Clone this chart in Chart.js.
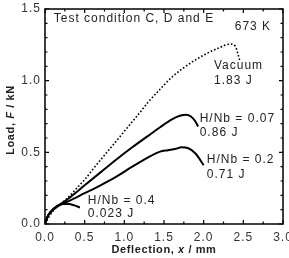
<!DOCTYPE html>
<html>
<head>
<meta charset="utf-8">
<script src="https://cdn.jsdelivr.net/npm/chart.js@4.4.0/dist/chart.umd.min.js"></script>
<style>
  html, body { margin: 0; padding: 0; background: #fff; }
  #wrap { width: 289px; height: 258px; }
</style>
</head>
<body>
<div id="wrap"><canvas id="c" width="289" height="258"></canvas></div>
<script>
// deflection (mm) / load (kN)
const vacuumX = [0, 0.05, 0.1, 0.2, 0.3, 0.4, 0.5, 0.63, 0.84, 1.05, 1.2, 1.3, 1.45, 1.61, 1.8, 2.04, 2.2, 2.33, 2.4, 2.43, 2.46];
const vacuumY = [0, 0.05, 0.09, 0.14, 0.19, 0.25, 0.31, 0.40, 0.54, 0.68, 0.78, 0.85, 0.94, 1.03, 1.11, 1.19, 1.23, 1.255, 1.24, 1.19, 1.13];

const nb007X = [0, 0.04, 0.1, 0.2, 0.3, 0.5, 0.7, 0.9, 1.1, 1.3, 1.45, 1.6, 1.7, 1.78, 1.84, 1.89, 1.93];
const nb007Y = [0, 0.06, 0.1, 0.14, 0.18, 0.27, 0.36, 0.45, 0.535, 0.615, 0.675, 0.73, 0.755, 0.762, 0.75, 0.72, 0.68];

const nb02X = [0, 0.04, 0.1, 0.2, 0.3, 0.5, 0.7, 0.9, 1.1, 1.3, 1.45, 1.55, 1.65, 1.72, 1.8, 1.9, 2.0];
const nb02Y = [0, 0.06, 0.1, 0.135, 0.16, 0.215, 0.27, 0.33, 0.40, 0.465, 0.505, 0.515, 0.525, 0.535, 0.53, 0.49, 0.41];

const nb04X = [0, 0.03, 0.08, 0.15, 0.22, 0.3, 0.37, 0.44];
const nb04Y = [0, 0.05, 0.09, 0.125, 0.14, 0.14, 0.13, 0.115];

const xTicks = [0, 0.5, 1.0, 1.5, 2.0, 2.5, 3.0];
const yTicks = [0, 0.5, 1.0, 1.5];

const labels = [
  { text: 'Test condition C, D and E', x: 0.11, y: 1.43 },
  { text: '673 K', x: 2.85, y: 1.375, align: 'right' },
  { text: 'Vacuum', x: 2.13, y: 1.105 },
  { text: '1.83 J', x: 2.13, y: 1.0 },
  { text: 'H/Nb = 0.07', x: 1.95, y: 0.735 },
  { text: '0.86 J', x: 1.95, y: 0.635 },
  { text: 'H/Nb = 0.2', x: 2.04, y: 0.45 },
  { text: '0.71 J', x: 2.04, y: 0.345 },
  { text: 'H/Nb = 0.4', x: 0.54, y: 0.165 },
  { text: '0.023 J', x: 0.54, y: 0.07 }
];

const FONT = '"Liberation Sans", Arial, sans-serif';

function pts(xs, ys) {
  return xs.map((x, i) => ({ x: x, y: ys[i] }));
}

const frame = {
  id: 'frame',
  beforeDraw(chart) {
    // tick labels in the original are set a little loose
    chart.ctx.letterSpacing = '1px';
  },
  afterDraw(chart) {
    const ctx = chart.ctx;
    const a = chart.chartArea;
    const xs = chart.scales.x, ys = chart.scales.y;
    ctx.save();
    ctx.strokeStyle = '#000';
    ctx.lineWidth = 1.5;
    ctx.strokeRect(a.left, a.top, a.right - a.left, a.bottom - a.top);
    ctx.lineWidth = 1.2;
    ctx.beginPath();
    for (let v = 0; v <= 3.0001; v += 0.25) {
      const px = xs.getPixelForValue(v);
      const len = Math.abs(v * 2 - Math.round(v * 2)) < 0.01 ? 4 : 2.5;
      ctx.moveTo(px, a.bottom); ctx.lineTo(px, a.bottom - len);
      ctx.moveTo(px, a.top); ctx.lineTo(px, a.top + len);
    }
    for (let i = 0; i <= 15; i++) {
      const py = ys.getPixelForValue(i / 10);
      const len = i % 5 === 0 ? 4 : 2.5;
      ctx.moveTo(a.left, py); ctx.lineTo(a.left + len, py);
      ctx.moveTo(a.right, py); ctx.lineTo(a.right - len, py);
    }
    ctx.stroke();

    ctx.fillStyle = '#222';
    ctx.font = '12px ' + FONT;
    ctx.letterSpacing = '1px';
    ctx.textBaseline = 'middle';
    labels.forEach(l => {
      ctx.textAlign = l.align || 'left';
      ctx.fillText(l.text, xs.getPixelForValue(l.x), ys.getPixelForValue(l.y));
    });

    // axis titles with italic symbols
    ctx.letterSpacing = '0.6px';
    function mixed(parts, cx, cy) {
      let w = 0;
      parts.forEach(p => { ctx.font = p[1] + ' 11px ' + FONT; w += ctx.measureText(p[0]).width; });
      let x = cx - w / 2;
      ctx.textAlign = 'left';
      parts.forEach(p => {
        ctx.font = p[1] + ' 11px ' + FONT;
        ctx.fillText(p[0], x, cy);
        x += ctx.measureText(p[0]).width;
      });
    }
    mixed([['Deflection, ', 'bold'], ['x', 'italic bold'], [' / mm', 'bold']], (a.left + a.right) / 2, 250);
    ctx.translate(11, 120);
    ctx.rotate(-Math.PI / 2);
    mixed([['Load, ', 'bold'], ['F', 'italic bold'], [' / kN', 'bold']], 0, 0);
    ctx.restore();
  }
};

new Chart(document.getElementById('c'), {
  type: 'scatter',
  data: {
    datasets: [
      { data: pts(vacuumX, vacuumY), borderColor: '#000', borderWidth: 1.6, borderDash: [1.6, 2], showLine: true, pointRadius: 0, cubicInterpolationMode: 'monotone' },
      { data: pts(nb007X, nb007Y), borderColor: '#000', borderWidth: 2, showLine: true, pointRadius: 0, cubicInterpolationMode: 'monotone' },
      { data: pts(nb02X, nb02Y), borderColor: '#000', borderWidth: 2, showLine: true, pointRadius: 0, cubicInterpolationMode: 'monotone' },
      { data: pts(nb04X, nb04Y), borderColor: '#000', borderWidth: 2, showLine: true, pointRadius: 0, cubicInterpolationMode: 'monotone' }
    ]
  },
  options: {
    responsive: false,
    animation: false,
    layout: { padding: { left: 0, top: 9, right: 6, bottom: 0 } },
    plugins: { legend: { display: false }, tooltip: { enabled: false } },
    scales: {
      x: {
        type: 'linear', min: 0, max: 3,
        grid: { display: false, drawTicks: false },
        border: { display: false },
        afterBuildTicks: s => { s.ticks = xTicks.map(v => ({ value: v })); },
        afterFit: s => { s.height = 34; s.paddingLeft = 0; s.paddingRight = 0; },
        ticks: {
          padding: 6, color: '#333', maxRotation: 0,
          font: { family: FONT, size: 12 },
          callback: v => v.toFixed(1)
        }
      },
      y: {
        type: 'linear', min: 0, max: 1.5,
        grid: { display: false, drawTicks: false },
        border: { display: false },
        afterBuildTicks: s => { s.ticks = yTicks.map(v => ({ value: v })); },
        afterFit: s => { s.width = 45; s.paddingTop = 0; s.paddingBottom = 0; },
        ticks: {
          padding: 4, color: '#333',
          font: { family: FONT, size: 12 },
          callback: v => v.toFixed(1)
        }
      }
    }
  },
  plugins: [frame]
});
</script>
</body>
</html>
